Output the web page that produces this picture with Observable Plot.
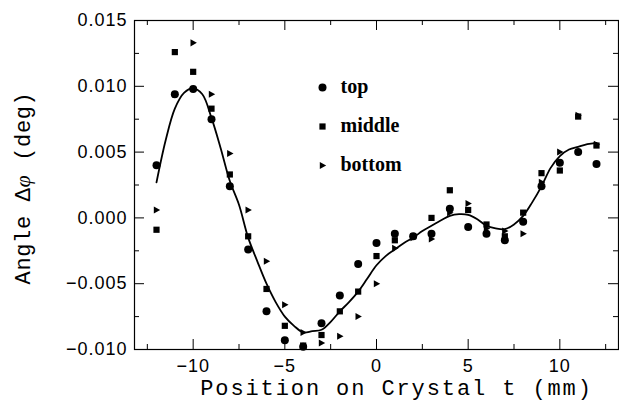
<!DOCTYPE html>
<html><head><meta charset="utf-8">
<script src="https://cdn.jsdelivr.net/npm/d3@7"></script>
<script src="https://cdn.jsdelivr.net/npm/@observablehq/plot@0.6"></script>
<style>body{margin:0;background:#fff} svg{display:block}</style>
</head><body><div id="chart"></div>
<script>
// Data
const positions = [-12,-11,-10,-9,-8,-7,-6,-5,-4,-3,-2,-1,0,1,2,3,4,5,6,7,8,9,10,11,12];
const topVals =    [0.0040,0.0094,0.0098,0.0075,0.0024,-0.0024,-0.0071,-0.0093,-0.0098,-0.0080,-0.0059,-0.0035,-0.0019,-0.0012,-0.0014,-0.0012,0.0007,-0.0007,-0.0012,-0.0017,-0.0003,0.0024,0.0042,0.0050,0.0041];
const middleVals = [-0.0009,0.0126,0.0111,0.0083,0.0033,-0.0014,-0.0054,-0.0082,-0.0097,-0.0089,-0.0071,-0.0056,-0.0029,-0.0017,-0.0014,0.0000,0.0021,0.0006,-0.0005,-0.0014,0.0004,0.0034,0.0036,0.0077,0.0055];
const bottomVals = [0.0006,0.0094,0.0133,0.0094,0.0049,0.0006,-0.0033,-0.0066,-0.0087,-0.0095,-0.0090,-0.0075,-0.0050,-0.0023,-0.0015,-0.0016,0.0004,0.0011,-0.0008,-0.0010,-0.0012,0.0027,0.0050,0.0078,0.0056];

const fitT = [-12,-11.5,-11,-10.5,-10,-9.5,-9,-8.5,-8,-7.5,-7,-6.5,-6,-5.5,-5,-4.5,-4,-3.5,-3,-2.5,-2,-1.5,-1,-0.5,0,0.5,1,1.5,2,2.5,3,3.5,4,4.5,5,5.5,6,6.5,7,7.5,8,8.5,9,9.5,10,10.5,11,11.5,12];
const fitY = [0.0027,0.0059,0.0083,0.0095,0.00985,0.0094,0.0076,0.0053,0.0028,0.0010,-0.0015,-0.0033,-0.0050,-0.0064,-0.0075,-0.0082,-0.0087,-0.0086,-0.0085,-0.0079,-0.0071,-0.0064,-0.0056,-0.0046,-0.0036,-0.0029,-0.0024,-0.0019,-0.0015,-0.0010,-0.0006,-0.0002,0.00015,0.00028,0.00023,-0.0001,-0.0006,-0.0008,-0.00086,-0.0005,0.00015,0.0012,0.0024,0.0038,0.0047,0.0052,0.0054,0.0056,0.0057];

const xMajorTicks = [-10,-5,0,5,10];
const xMinorTicks = [-12.5,-7.5,-2.5,2.5,7.5,12.5];
const yMajorTicks = [-0.010,-0.005,0,0.005,0.010,0.015];
const yMinorTicks = [-0.0075,-0.0025,0.0025,0.0075,0.0125];
const seriesNames = ["top","middle","bottom"];
const xTitle = "Position on Crystal t (mm)";
const yTitle = "Angle \u0394\u03c6 (deg)";

const rows = (vals) => positions.map((t,i)=>({t, v: vals[i]}));
const fit = fitT.map((t,i)=>({t, v: fitY[i]}));

const triRight = {draw(ctx, size){
  const s = Math.sqrt(size);
  ctx.moveTo(-0.42*s, -0.55*s);
  ctx.lineTo(0.58*s, 0);
  ctx.lineTo(-0.42*s, 0.55*s);
  ctx.closePath();
}};

const W = 619, H = 412, mL = 134, mR = 1, mT = 20, mB = 63;
const iw = W - mL - mR, ih = H - mT - mB;
const fmtX = d => d < 0 ? "\u2212" + Math.abs(d) : String(d);
const serif = "'Liberation Serif', serif";
const mono = "'Liberation Mono', monospace";

const legendText = (name, dy) => Plot.text([name], {frameAnchor: "top-left", dx: 206, dy, text: d=>d, textAnchor: "start", lineAnchor: "middle", fontWeight: "bold", fontFamily: serif, fontSize: 20});

const chart = Plot.plot({
  width: W, height: H,
  marginLeft: mL, marginRight: mR, marginTop: mT, marginBottom: mB,
  style: {fontFamily: "'Liberation Sans', Arial, sans-serif", fontSize: "18px", background: "#fff", color: "#000"},
  x: {domain: [-13.2, 13.2]},
  y: {domain: [-0.010, 0.015]},
  marks: [
    Plot.frame({stroke: "#000", strokeWidth: 1.2}),
    Plot.axisX({ticks: xMajorTicks, tickSize: 0, tickPadding: 10, tickFormat: fmtX, label: null, fontSize: 18}),
    Plot.axisY({ticks: yMajorTicks, tickSize: 0, tickPadding: 7, tickFormat: d3.format(".3f"), label: null, fontSize: 18}),
    // inward ticks
    Plot.tickX(xMajorTicks, {x: d=>d, insetTop: ih - 10, stroke: "#000"}),
    Plot.tickX(xMajorTicks, {x: d=>d, insetBottom: ih - 10, stroke: "#000"}),
    Plot.tickX(xMinorTicks, {x: d=>d, insetTop: ih - 5, stroke: "#000"}),
    Plot.tickX(xMinorTicks, {x: d=>d, insetBottom: ih - 5, stroke: "#000"}),
    Plot.tickY(yMajorTicks, {y: d=>d, insetRight: iw - 10, stroke: "#000"}),
    Plot.tickY(yMajorTicks, {y: d=>d, insetLeft: iw - 10, stroke: "#000"}),
    Plot.tickY(yMinorTicks, {y: d=>d, insetRight: iw - 5, stroke: "#000"}),
    Plot.tickY(yMinorTicks, {y: d=>d, insetLeft: iw - 5, stroke: "#000"}),
    // fit curve
    Plot.line(fit, {x: "t", y: "v", curve: "catmull-rom", stroke: "#000", strokeWidth: 1.8}),
    // data
    Plot.dot(rows(topVals), {x: "t", y: "v", symbol: "circle", r: 4, fill: "#000", stroke: null}),
    Plot.dot(rows(middleVals), {x: "t", y: "v", symbol: "square", r: 3.5, fill: "#000", stroke: null}),
    Plot.dot(rows(bottomVals), {x: "t", y: "v", symbol: triRight, r: 3.6, fill: "#000", stroke: null}),
    // legend
    Plot.dot([0], {frameAnchor: "top-left", dx: 188, dy: 67, symbol: "circle", r: 4, fill: "#000", stroke: null}),
    Plot.dot([0], {frameAnchor: "top-left", dx: 188, dy: 106, symbol: "square", r: 3.5, fill: "#000", stroke: null}),
    Plot.dot([0], {frameAnchor: "top-left", dx: 188, dy: 145, symbol: triRight, r: 3.6, fill: "#000", stroke: null}),
    legendText(seriesNames[0], 66),
    legendText(seriesNames[1], 105),
    legendText(seriesNames[2], 144),
    // axis titles
    Plot.text([xTitle], {frameAnchor: "bottom", dx: 20, dy: 38, text: d=>d, textAnchor: "middle", lineAnchor: "middle", fontFamily: mono, fontSize: 22}),
    Plot.text([yTitle], {frameAnchor: "left", dx: -112, dy: 3, rotate: -90, text: d=>d, textAnchor: "middle", lineAnchor: "middle", fontFamily: mono, fontSize: 22})
  ]
});
document.getElementById("chart").appendChild(chart);

// letter spacing / styling tweaks on text
d3.select(chart).selectAll("text").each(function(){
  const s = d3.select(this);
  const t = s.text();
  if (t === xTitle) s.style("letter-spacing", "1.9px");
  else if (t === yTitle) {
    s.style("letter-spacing", "0.65px");
    s.text(null);
    s.append("tspan").text("Angle \u0394");
    s.append("tspan").attr("font-style", "italic").attr("font-family", "'Liberation Serif', serif").text("\u03c6");
    s.append("tspan").text(" (deg)");
  } else if (/^[\u22120-9.\-]+$/.test(t)) s.style("letter-spacing", "1px");
});
</script>
</body></html>
